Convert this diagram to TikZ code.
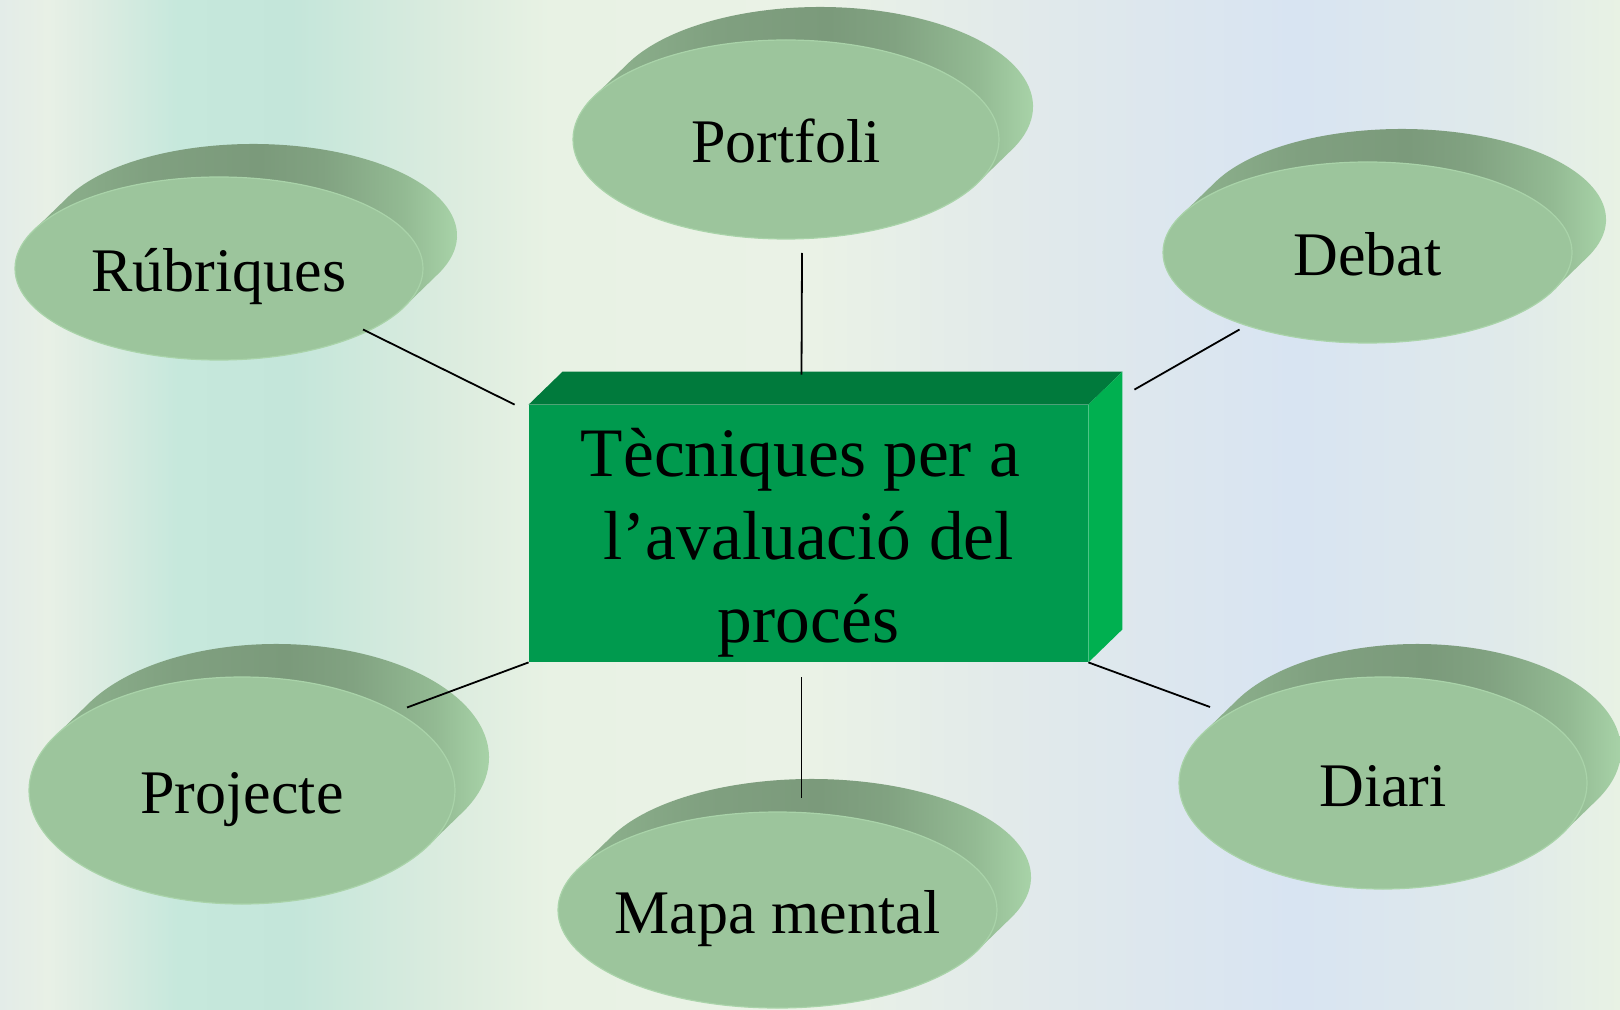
\documentclass[tikz,border=0pt]{standalone}
\usepackage{fontspec}
\setmainfont{Liberation Serif}
\usetikzlibrary{calc,positioning,shapes}

\definecolor{discface}{HTML}{9CC59C}
\definecolor{discrim}{HTML}{A9D3A9}
\definecolor{sideA}{HTML}{8EB38E}
\definecolor{sideB}{HTML}{80A080}
\definecolor{sideC}{HTML}{7B9A7B}
\definecolor{sideD}{HTML}{81A281}
\definecolor{sideE}{HTML}{93BA93}
\definecolor{sideF}{HTML}{B3E0B3}
\definecolor{boxfront}{HTML}{009A4E}
\definecolor{boxtop}{HTML}{007A3C}
\definecolor{boxside}{HTML}{00B050}
\definecolor{bga}{HTML}{E3ECE8}
\definecolor{bgb}{HTML}{E8F0E6}
\definecolor{bgc}{HTML}{DCECE2}
\definecolor{bgd}{HTML}{C6E8DC}
\definecolor{bge}{HTML}{C4E6DA}
\definecolor{bgf}{HTML}{DCECDF}
\definecolor{bgg}{HTML}{E8F2E4}
\definecolor{bgh}{HTML}{EAF2E6}
\definecolor{bgi}{HTML}{E2EAEA}
\definecolor{bgj}{HTML}{D8E4F2}
\definecolor{bgk}{HTML}{E0EAEA}
\pgfdeclarehorizontalshading{slidebg}{100bp}{color(0bp)=(bga); color(25bp)=(bga);
  color(26.5bp)=(bgb); color(28bp)=(bgc); color(30.5bp)=(bgd); color(34bp)=(bge);
  color(39bp)=(bgf); color(42bp)=(bgg); color(50bp)=(bgh); color(56bp)=(bgi);
  color(65bp)=(bgj); color(71.5bp)=(bgk); color(75bp)=(bgg); color(100bp)=(bgg)}
\pgfdeclarehorizontalshading{discside}{100bp}{color(0bp)=(sideA); color(25bp)=(sideA);
  color(38bp)=(sideB); color(50bp)=(sideC); color(57bp)=(sideD); color(66bp)=(sideE);
  color(75bp)=(sideF); color(100bp)=(sideF)}

\begin{document}
\begin{tikzpicture}[x=0.5pt,y=-0.5pt,
    face/.style={fill=discface,draw=discrim,line width=0.6pt},
    side/.style={shading=discside},
    lbl/.style={inner sep=0pt,text height=23pt,text depth=0pt,font=\fontsize{31}{37}\selectfont},
    link/.style={draw=black,line width=0.9pt}]
		\useasboundingbox (0,0) rectangle (1620,1010);
		\shade[shading=slidebg] (0,0) rectangle (1620,1010);

		% discs
		\foreach \nm/\cx/\cy/\rx/\ry/\txt in {rub/219/268.5/204/91.5/Rúbriques,
				port/786/139.5/213/99.5/Portfoli, deb/1367.5/252.5/204.5/90.5/Debat,
				proj/242/790.5/213/113.5/Projecte, mapa/777.5/910/219.5/98/Mapa mental,
				diar/1383/783/204/106/Diari}{
			\pgfmathsetmacro\a{atan(\ry/\rx)}
			\shade[side] ($(\cx,\cy)+(34,-33)+({-\rx*cos(\a)},{-\ry*sin(\a)})$)
				arc[start angle=180+\a,end angle=360+\a,x radius=\rx,y radius=\ry] -- ++(-34,33)
				arc[start angle=\a,end angle=\a-180,x radius=\rx,y radius=\ry] -- cycle;
			\fill[face] (\cx,\cy) ellipse[x radius=\rx,y radius=\ry];
			\node[lbl] (\nm) at (\cx,\cy) {\txt};
		}

		% box
		\node[fill=boxfront,minimum width=279.5pt,minimum height=128.5pt,inner sep=0pt] (box) at (808.5,533.5) {};
		\fill[boxtop] (box.north west) -- ++(34,-33) -- ($(box.north east)+(34,-33)$) -- (box.north east) -- cycle;
		\fill[boxside] (box.north east) -- ++(34,-33) -- ($(box.south east)+(34,-33)$) -- (box.south east) -- cycle;
		\node[align=center,inner sep=0pt,font=\fontsize{34.7}{41.5}\selectfont] (tec) at ($(box.center)+(0,9.5)$)
			{Tècniques per a\hspace*{8pt}\\l’avaluació del\\procés};

		% links
		\path ($(rub.center)+(144,61)$) edge[link] ($(box.north west)+(-14,0)$)
				($(port.center)+(16,113.5)$) edge[link] ($(box.north)+(-7,-30)$)
				($(deb.center)+(-128,77)$) edge[link] ($(box.north east)+(46,-15)$);
		\path ($(proj.center)+(165,-83)$) edge[link] (box.south west)
				($(box.south)+(-7,15)$) edge[link] ($(mapa.center)+(24,-112)$)
				(box.south east) edge[link] ($(diar.center)+(-173,-76)$);
\end{tikzpicture}
\end{document}
